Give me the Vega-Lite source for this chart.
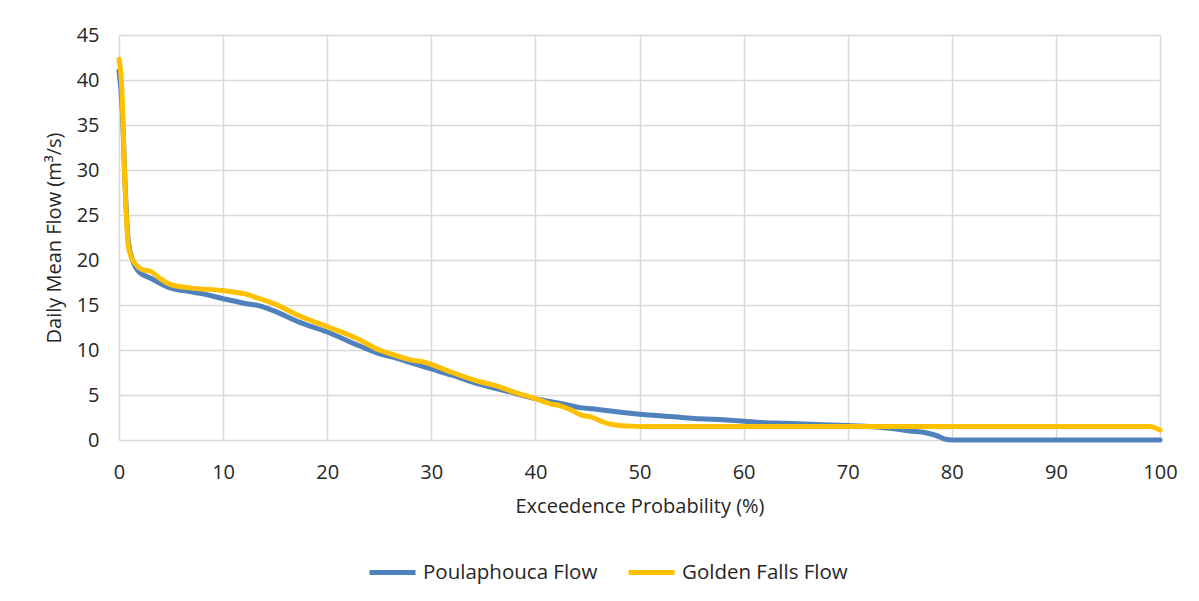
{
  "$schema": "https://vega.github.io/schema/vega-lite/v6.json",
  "autosize": {"type": "none"},
  "width": 1041,
  "height": 405,
  "padding": {"left": 119, "top": 35, "right": 39, "bottom": 161},
  "background": "white",
  "config": {
    "font": "Open Sans",
    "view": {"stroke": null},
    "axis": {
      "gridColor": "#D9D9D9",
      "gridWidth": 1.5,
      "domain": false,
      "ticks": false,
      "labelFlush": false,
      "labelFont": "Open Sans",
      "labelFontSize": 20,
      "labelColor": "#262626",
      "titleFont": "Open Sans",
      "titleFontSize": 20,
      "titleFontWeight": "normal",
      "titleColor": "#262626"
    },
    "legend": {
      "labelFont": "Open Sans",
      "labelFontSize": 20.5,
      "labelColor": "#262626",
      "labelLimit": 400
    }
  },
  "data": {
    "values": [
      {"p": 0, "flow": 41, "series": "Poulaphouca Flow"},
      {"p": 0.3, "flow": 37, "series": "Poulaphouca Flow"},
      {"p": 0.6, "flow": 28, "series": "Poulaphouca Flow"},
      {"p": 0.9, "flow": 22, "series": "Poulaphouca Flow"},
      {"p": 1.3, "flow": 20, "series": "Poulaphouca Flow"},
      {"p": 2.0, "flow": 18.6, "series": "Poulaphouca Flow"},
      {"p": 3.0, "flow": 18.0, "series": "Poulaphouca Flow"},
      {"p": 4.9, "flow": 16.9, "series": "Poulaphouca Flow"},
      {"p": 6.8, "flow": 16.5, "series": "Poulaphouca Flow"},
      {"p": 7.8, "flow": 16.3, "series": "Poulaphouca Flow"},
      {"p": 10, "flow": 15.7, "series": "Poulaphouca Flow"},
      {"p": 12, "flow": 15.2, "series": "Poulaphouca Flow"},
      {"p": 13.5, "flow": 14.9, "series": "Poulaphouca Flow"},
      {"p": 15, "flow": 14.3, "series": "Poulaphouca Flow"},
      {"p": 17.3, "flow": 13.1, "series": "Poulaphouca Flow"},
      {"p": 20, "flow": 12.0, "series": "Poulaphouca Flow"},
      {"p": 23, "flow": 10.5, "series": "Poulaphouca Flow"},
      {"p": 25, "flow": 9.6, "series": "Poulaphouca Flow"},
      {"p": 26.3, "flow": 9.2, "series": "Poulaphouca Flow"},
      {"p": 28, "flow": 8.6, "series": "Poulaphouca Flow"},
      {"p": 30, "flow": 7.9, "series": "Poulaphouca Flow"},
      {"p": 32, "flow": 7.2, "series": "Poulaphouca Flow"},
      {"p": 34.6, "flow": 6.2, "series": "Poulaphouca Flow"},
      {"p": 37, "flow": 5.5, "series": "Poulaphouca Flow"},
      {"p": 40, "flow": 4.6, "series": "Poulaphouca Flow"},
      {"p": 42.4, "flow": 4.05, "series": "Poulaphouca Flow"},
      {"p": 44.3, "flow": 3.6, "series": "Poulaphouca Flow"},
      {"p": 46, "flow": 3.4, "series": "Poulaphouca Flow"},
      {"p": 48, "flow": 3.1, "series": "Poulaphouca Flow"},
      {"p": 50, "flow": 2.85, "series": "Poulaphouca Flow"},
      {"p": 53, "flow": 2.6, "series": "Poulaphouca Flow"},
      {"p": 55.8, "flow": 2.35, "series": "Poulaphouca Flow"},
      {"p": 58, "flow": 2.25, "series": "Poulaphouca Flow"},
      {"p": 61.6, "flow": 1.95, "series": "Poulaphouca Flow"},
      {"p": 64, "flow": 1.85, "series": "Poulaphouca Flow"},
      {"p": 66.4, "flow": 1.75, "series": "Poulaphouca Flow"},
      {"p": 70, "flow": 1.6, "series": "Poulaphouca Flow"},
      {"p": 72, "flow": 1.5, "series": "Poulaphouca Flow"},
      {"p": 74, "flow": 1.3, "series": "Poulaphouca Flow"},
      {"p": 76, "flow": 1.0, "series": "Poulaphouca Flow"},
      {"p": 77.5, "flow": 0.8, "series": "Poulaphouca Flow"},
      {"p": 78.5, "flow": 0.5, "series": "Poulaphouca Flow"},
      {"p": 79.5, "flow": 0.05, "series": "Poulaphouca Flow"},
      {"p": 80, "flow": 0, "series": "Poulaphouca Flow"},
      {"p": 90, "flow": 0, "series": "Poulaphouca Flow"},
      {"p": 100, "flow": 0, "series": "Poulaphouca Flow"},
      {"p": 0, "flow": 42.3, "series": "Golden Falls Flow"},
      {"p": 0.26, "flow": 39.3, "series": "Golden Falls Flow"},
      {"p": 0.58, "flow": 28.2, "series": "Golden Falls Flow"},
      {"p": 0.9, "flow": 21.5, "series": "Golden Falls Flow"},
      {"p": 1.37, "flow": 19.9, "series": "Golden Falls Flow"},
      {"p": 2.3, "flow": 18.9, "series": "Golden Falls Flow"},
      {"p": 3.0, "flow": 18.75, "series": "Golden Falls Flow"},
      {"p": 4.0, "flow": 17.9, "series": "Golden Falls Flow"},
      {"p": 4.9, "flow": 17.3, "series": "Golden Falls Flow"},
      {"p": 6.8, "flow": 16.9, "series": "Golden Falls Flow"},
      {"p": 10, "flow": 16.6, "series": "Golden Falls Flow"},
      {"p": 12.2, "flow": 16.2, "series": "Golden Falls Flow"},
      {"p": 13.5, "flow": 15.7, "series": "Golden Falls Flow"},
      {"p": 15, "flow": 15.1, "series": "Golden Falls Flow"},
      {"p": 17.3, "flow": 13.8, "series": "Golden Falls Flow"},
      {"p": 20, "flow": 12.6, "series": "Golden Falls Flow"},
      {"p": 23, "flow": 11.2, "series": "Golden Falls Flow"},
      {"p": 25, "flow": 10.0, "series": "Golden Falls Flow"},
      {"p": 26.3, "flow": 9.5, "series": "Golden Falls Flow"},
      {"p": 28, "flow": 8.9, "series": "Golden Falls Flow"},
      {"p": 29.5, "flow": 8.6, "series": "Golden Falls Flow"},
      {"p": 30, "flow": 8.4, "series": "Golden Falls Flow"},
      {"p": 32, "flow": 7.5, "series": "Golden Falls Flow"},
      {"p": 34.6, "flow": 6.5, "series": "Golden Falls Flow"},
      {"p": 36, "flow": 6.1, "series": "Golden Falls Flow"},
      {"p": 38, "flow": 5.3, "series": "Golden Falls Flow"},
      {"p": 40, "flow": 4.6, "series": "Golden Falls Flow"},
      {"p": 41.5, "flow": 4.0, "series": "Golden Falls Flow"},
      {"p": 42.4, "flow": 3.8, "series": "Golden Falls Flow"},
      {"p": 43.5, "flow": 3.3, "series": "Golden Falls Flow"},
      {"p": 44.3, "flow": 2.8, "series": "Golden Falls Flow"},
      {"p": 45.5, "flow": 2.5, "series": "Golden Falls Flow"},
      {"p": 46.5, "flow": 2.0, "series": "Golden Falls Flow"},
      {"p": 47.5, "flow": 1.7, "series": "Golden Falls Flow"},
      {"p": 49, "flow": 1.55, "series": "Golden Falls Flow"},
      {"p": 50, "flow": 1.5, "series": "Golden Falls Flow"},
      {"p": 60, "flow": 1.5, "series": "Golden Falls Flow"},
      {"p": 80, "flow": 1.5, "series": "Golden Falls Flow"},
      {"p": 99, "flow": 1.5, "series": "Golden Falls Flow"},
      {"p": 100, "flow": 1.1, "series": "Golden Falls Flow"}
    ]
  },
  "encoding": {
    "x": {
      "field": "p",
      "type": "quantitative",
      "scale": {"domain": [0, 100], "nice": false},
      "axis": {"values": [0,10,20,30,40,50,60,70,80,90,100], "title": "Exceedence Probability (%)", "labelPadding": 22, "titlePadding": 14}
    },
    "y": {
      "field": "flow",
      "type": "quantitative",
      "scale": {"domain": [0, 45], "nice": false},
      "axis": {"values": [0,5,10,15,20,25,30,35,40,45], "title": "Daily Mean Flow (m³/s)", "labelPadding": 20, "titlePadding": 12}
    },
    "color": {
      "field": "series",
      "type": "nominal",
      "scale": {"domain": ["Poulaphouca Flow", "Golden Falls Flow"], "range": ["#4F81BD", "#FFC000"]},
      "legend": {
        "title": null,
        "orient": "none",
        "direction": "horizontal",
        "legendX": 248,
        "legendY": 512,
        "symbolType": "stroke",
        "symbolStrokeWidth": 5,
        "symbolSize": 2116,
        "labelOffset": 5,
        "columnPadding": 20
      }
    }
  },
  "layer": [
    {
      "transform": [{"filter": "datum.series == 'Poulaphouca Flow'"}],
      "mark": {"type": "line", "strokeWidth": 5, "interpolate": "monotone", "strokeCap": "round"}
    },
    {
      "transform": [{"filter": "datum.series == 'Golden Falls Flow'"}],
      "mark": {"type": "line", "strokeWidth": 5, "interpolate": "monotone", "strokeCap": "round"}
    }
  ]
}
